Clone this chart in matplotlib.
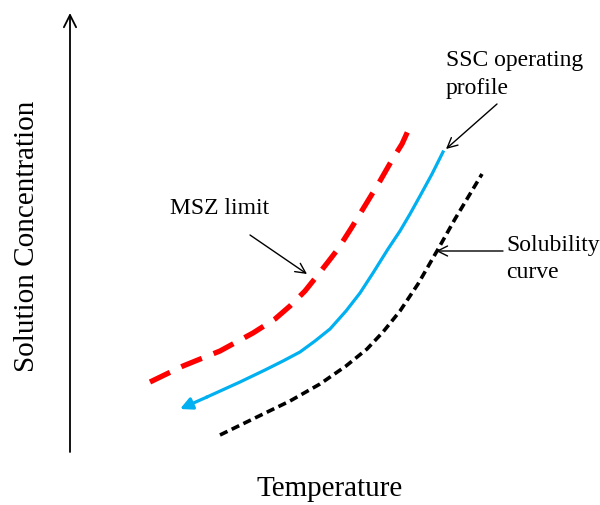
import matplotlib.pyplot as plt

# Curvas (coordenadas en píxeles, eje y hacia abajo)
msz_x = [150, 183, 220, 253, 275, 290, 305, 317, 328, 338, 352, 366, 380, 392, 402, 412]
msz_y = [383, 367, 352, 334, 320, 307, 292, 277, 263, 250, 228, 205, 182, 161, 145, 123]

ssc_x = [443, 432, 420, 410, 400, 388, 373, 360, 346, 330, 315, 300, 283, 265, 240, 207, 180]
ssc_y = [153, 175, 197, 215, 232, 250, 274, 294, 312, 330, 342, 353, 362, 371, 383, 398, 410]

sol_x = [220, 257, 290, 320, 346, 367, 383, 400, 418, 437, 455, 470, 482]
sol_y = [436, 418, 402, 385, 367, 350, 333, 312, 285, 252, 220, 195, 175]

plt.rcParams['font.family'] = ['Liberation Serif', 'DejaVu Serif']

fig = plt.figure(figsize=(6, 5.06), dpi=100)
ax = fig.add_axes([0, 0, 1, 1])
ax.set_xlim(0, 600)
ax.set_ylim(506, 0)
ax.axis('off')

# ejes con flecha
ax.annotate('', xy=(70, 14), xytext=(70, 453),
            arrowprops=dict(arrowstyle='->', color='black', lw=1.3,
                            mutation_scale=22, shrinkA=0, shrinkB=0))
ax.annotate('', xy=(606, 452), xytext=(69, 452),
            arrowprops=dict(arrowstyle='->', color='#444444', lw=1.3,
                            mutation_scale=22, shrinkA=0, shrinkB=0))

# curvas
ax.plot(msz_x, msz_y, color='#FF0000', lw=3.8, dashes=(4.2, 2.4),
        dash_capstyle='butt', dash_joinstyle='round')
ax.plot(ssc_x[:-1], ssc_y[:-1], color='#00B0F0', lw=2.3,
        solid_joinstyle='round')
ax.annotate('', xy=(ssc_x[-1], ssc_y[-1]), xytext=(ssc_x[-2], ssc_y[-2]),
            arrowprops=dict(arrowstyle='-|>', color='#00B0F0', lw=2.3,
                            mutation_scale=18, shrinkA=0, shrinkB=0))
ax.plot(sol_x, sol_y, color='black', lw=2.6, dashes=(2.3, 1.3),
        dash_capstyle='butt', dash_joinstyle='round')

# etiquetas de ejes
ax.text(330, 489, 'Temperature', fontsize=21, ha='center', va='center')
ax.text(27, 236, 'Solution Concentration', fontsize=21, ha='center',
        va='center', rotation=90)

# anotaciones
arr = dict(arrowstyle='->', color='black', lw=1.0, mutation_scale=18,
           shrinkA=0, shrinkB=0)
ax.text(170, 208, 'MSZ limit', fontsize=17, ha='left', va='center')
ax.annotate('', xy=(307, 275), xytext=(250, 236), arrowprops=arr)

ax.text(446, 60, 'SSC operating', fontsize=17, ha='left', va='center')
ax.text(446, 88, 'profile', fontsize=17, ha='left', va='center')
ax.annotate('', xy=(446, 150), xytext=(497, 105), arrowprops=arr)

ax.text(506, 245, 'Solubility', fontsize=17, ha='left', va='center')
ax.text(506, 272, 'curve', fontsize=17, ha='left', va='center')
ax.annotate('', xy=(436, 252), xytext=(503, 252), arrowprops=arr)

fig.savefig('out.png', dpi=100)
